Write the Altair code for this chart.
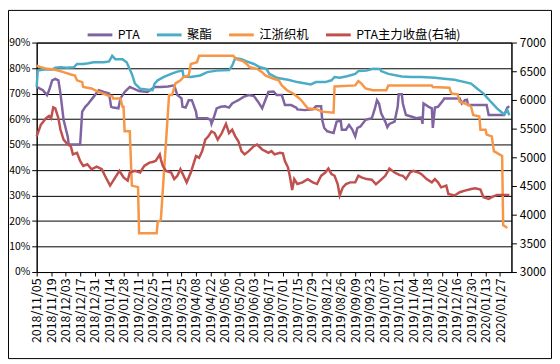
import altair as alt
import pandas as pd

# ---------------- data ----------------
SERIES = ["PTA", "聚酯", "江浙织机", "PTA主力收盘(右轴)"]
COLORS = ["#8064A2", "#4BACC6", "#F79646", "#C0504D"]

pta_dates = ["2018-11-05","2018-11-11","2018-11-15","2018-11-17","2018-11-20","2018-11-23","2018-11-26","2018-11-28",
 "2018-12-01","2018-12-05","2018-12-06","2018-12-17","2018-12-19","2018-12-22","2018-12-25","2018-12-30",
 "2019-01-04","2019-01-09","2019-01-14","2019-01-16","2019-01-18","2019-01-23","2019-01-25","2019-01-29",
 "2019-02-03","2019-02-12","2019-02-20","2019-02-27","2019-03-05","2019-03-12","2019-03-18","2019-03-21",
 "2019-03-25","2019-03-26","2019-03-29","2019-04-01","2019-04-04","2019-04-08","2019-04-09","2019-04-19",
 "2019-04-22","2019-04-23","2019-04-25","2019-04-28","2019-05-02","2019-05-06","2019-05-10","2019-05-13",
 "2019-05-16","2019-05-19","2019-05-24","2019-05-29","2019-06-03","2019-06-07","2019-06-11","2019-06-14",
 "2019-06-17","2019-06-22","2019-06-25","2019-06-30","2019-07-03","2019-07-09","2019-07-14","2019-07-15",
 "2019-07-22","2019-07-30","2019-08-02","2019-08-07","2019-08-08","2019-08-10","2019-08-13","2019-08-19",
 "2019-08-22","2019-08-26","2019-08-27","2019-08-31","2019-09-03","2019-09-06","2019-09-09","2019-09-11",
 "2019-09-14","2019-09-19","2019-09-22","2019-09-25","2019-09-28","2019-09-30","2019-10-02","2019-10-04",
 "2019-10-08","2019-10-10","2019-10-12","2019-10-17","2019-10-20","2019-10-21","2019-10-24","2019-10-25",
 "2019-10-28","2019-11-02","2019-11-07","2019-11-12","2019-11-13","2019-11-14","2019-11-19","2019-11-22",
 "2019-11-23","2019-11-25","2019-11-28","2019-12-03","2019-12-04","2019-12-19","2019-12-21","2019-12-24",
 "2019-12-26","2019-12-27","2020-01-14","2020-01-16","2020-01-31","2020-02-03","2020-02-05"]
pta_vals = [72.6,71.3,69.4,71.3,75.2,75.8,75.2,70.0,
 59.7,53.2,50.0,50.0,62.9,64.8,66.1,68.7,
 71.3,70.6,70.0,64.8,64.5,64.2,68.1,70.6,
 72.6,71.0,70.6,72.6,72.6,72.8,73.2,69.4,
 68.1,64.8,64.5,67.4,67.4,62.9,60.3,60.3,
 59.7,58.1,60.3,64.2,64.8,65.0,64.5,66.1,
 66.8,67.4,68.7,69.4,69.0,66.8,64.2,67.4,
 70.6,70.8,69.4,69.4,65.5,65.5,64.5,63.8,
 63.5,63.8,65.0,65.0,59.7,56.5,55.2,54.5,
 59.0,59.3,55.8,55.8,57.7,56.0,53.2,56.5,
 57.1,59.7,60.0,60.3,64.2,67.4,66.0,62.3,
 59.0,56.8,58.1,59.0,64.8,69.7,69.7,66.1,
 61.6,61.0,60.3,60.6,58.1,66.1,64.8,64.2,
 56.5,64.5,64.8,67.4,68.1,68.1,66.1,67.4,
 67.6,65.5,65.5,61.6,61.6,64.5,65.0]

poly_dates = ["2018-11-05","2018-11-06","2018-11-12","2018-11-20","2018-11-23","2018-11-28","2018-12-04","2018-12-11",
 "2018-12-14","2018-12-20","2018-12-25","2018-12-30","2019-01-09","2019-01-14","2019-01-17","2019-01-20",
 "2019-01-27","2019-01-31","2019-02-05","2019-02-08","2019-02-13","2019-02-25","2019-02-27","2019-03-02",
 "2019-03-08","2019-03-15","2019-03-21","2019-03-26","2019-03-27","2019-04-03","2019-04-12","2019-04-19",
 "2019-04-28","2019-05-10","2019-05-13","2019-05-16","2019-05-22","2019-05-27","2019-06-03","2019-06-09",
 "2019-06-15","2019-06-18","2019-06-26","2019-07-06","2019-07-15","2019-07-28","2019-08-02","2019-08-11",
 "2019-08-17","2019-08-20","2019-08-25","2019-09-01","2019-09-09","2019-09-12","2019-09-20","2019-09-26",
 "2019-10-03","2019-10-04","2019-10-11","2019-10-24","2019-11-02","2019-11-12","2019-11-25","2019-12-04",
 "2019-12-14","2019-12-24","2019-12-30","2020-01-05","2020-01-11","2020-01-18","2020-01-24","2020-01-29",
 "2020-01-31","2020-02-03","2020-02-05"]
poly_vals = [72.6,79.0,79.4,79.4,80.1,80.3,80.1,80.3,
 81.6,81.6,81.9,82.3,82.3,82.6,84.8,83.5,
 83.5,82.3,77.7,73.9,71.9,71.3,73.9,75.2,
 76.5,77.7,78.6,79.0,76.7,76.5,77.1,78.4,
 79.0,79.2,80.9,83.9,83.5,82.6,81.6,80.3,
 79.7,77.7,76.1,75.4,74.5,73.6,74.5,74.5,
 75.2,76.5,76.2,76.8,77.7,78.8,79.0,79.7,
 79.6,78.8,77.7,76.7,76.5,76.5,76.2,75.8,
 75.4,74.5,73.9,71.9,70.0,66.8,64.2,62.5,
 61.8,63.5,61.5]

loom_dates = ["2018-11-05","2018-11-09","2018-11-15","2018-11-22","2018-12-01","2018-12-08","2018-12-12","2018-12-14",
 "2018-12-19","2018-12-20","2018-12-28","2019-01-04","2019-01-10","2019-01-14","2019-01-17","2019-01-18",
 "2019-01-25","2019-01-27","2019-01-28","2019-01-29","2019-02-03","2019-02-05","2019-02-11","2019-02-12",
 "2019-03-01","2019-03-02","2019-03-05","2019-03-13","2019-03-16","2019-03-19","2019-03-24","2019-03-27",
 "2019-04-01","2019-04-03","2019-04-09","2019-04-11","2019-05-14","2019-05-17","2019-05-24","2019-05-27",
 "2019-05-30","2019-06-06","2019-06-11","2019-06-14","2019-06-22","2019-06-27","2019-06-30","2019-07-05",
 "2019-07-11","2019-07-17","2019-07-20","2019-07-25","2019-08-03","2019-08-08","2019-08-19","2019-08-20",
 "2019-09-09","2019-09-12","2019-09-15","2019-09-19","2019-09-26","2019-10-09","2019-10-11","2019-11-22",
 "2019-11-23","2019-12-09","2019-12-11","2019-12-17","2019-12-19","2019-12-24","2019-12-28","2019-12-30",
 "2020-01-01","2020-01-07","2020-01-08","2020-01-13","2020-01-14","2020-01-19","2020-01-21","2020-01-29",
 "2020-01-30","2020-02-03"]
loom_vals = [81.0,80.3,79.7,79.4,78.4,77.5,77.1,75.2,
 74.5,72.6,72.0,70.6,69.7,69.0,69.0,68.1,
 68.1,64.8,64.8,55.2,55.2,33.9,33.3,15.2,
 15.2,19.7,20.3,69.4,69.4,73.9,75.2,76.5,
 77.1,81.6,82.3,84.8,84.8,83.5,82.6,81.6,
 80.3,79.7,78.4,77.1,75.8,75.2,73.2,71.3,
 70.0,68.1,66.8,64.2,63.8,62.9,62.5,72.8,
 73.2,74.9,73.9,72.0,71.3,71.3,73.2,73.2,
 72.6,72.3,70.0,69.7,66.8,66.1,65.5,64.8,
 61.6,61.0,55.8,55.8,53.9,53.2,47.4,45.5,
 18.4,17.3]

fut_dates = ["2018-11-05","2018-11-09","2018-11-14","2018-11-17","2018-11-19","2018-11-21","2018-11-23","2018-11-26",
 "2018-11-28","2018-12-01","2018-12-05","2018-12-08","2018-12-10","2018-12-14","2018-12-17","2018-12-20",
 "2018-12-24","2018-12-28","2019-01-02","2019-01-07","2019-01-10","2019-01-15","2019-01-20","2019-01-24",
 "2019-01-28","2019-02-01","2019-02-03","2019-02-08","2019-02-13","2019-02-17","2019-02-22","2019-02-25",
 "2019-02-28","2019-03-04","2019-03-05","2019-03-07","2019-03-10","2019-03-15","2019-03-18","2019-03-21",
 "2019-03-24","2019-03-27","2019-03-30","2019-04-03","2019-04-08","2019-04-11","2019-04-14","2019-04-17",
 "2019-04-20","2019-04-23","2019-04-26","2019-04-29","2019-05-03","2019-05-07","2019-05-10","2019-05-13",
 "2019-05-16","2019-05-19","2019-05-22","2019-05-25","2019-05-29","2019-06-03","2019-06-06","2019-06-11",
 "2019-06-14","2019-06-17","2019-06-20","2019-06-23","2019-06-28","2019-07-01","2019-07-03","2019-07-06",
 "2019-07-08","2019-07-10","2019-07-12","2019-07-15","2019-07-20","2019-07-25","2019-07-30","2019-08-03",
 "2019-08-07","2019-08-11","2019-08-14","2019-08-17","2019-08-20","2019-08-23","2019-08-25","2019-08-28",
 "2019-08-31","2019-09-04","2019-09-09","2019-09-12","2019-09-15","2019-09-20","2019-09-25","2019-09-29",
 "2019-10-03","2019-10-08","2019-10-12","2019-10-17","2019-10-22","2019-10-25","2019-10-28","2019-11-01",
 "2019-11-04","2019-11-09","2019-11-12","2019-11-17","2019-11-22","2019-11-25","2019-11-28","2019-12-01",
 "2019-12-06","2019-12-08","2019-12-14","2019-12-19","2019-12-24","2019-12-30","2020-01-03","2020-01-08",
 "2020-01-11","2020-01-16","2020-01-19","2020-01-24","2020-01-30","2020-02-05"]
fut_vals = [5366,5566,5681,5721,5681,5870,5853,5681,
 5480,5308,5222,5194,5050,5079,4936,4850,
 4878,4792,4838,4792,4678,4506,4649,4764,
 4649,4592,4735,4764,4735,4850,4907,4919,
 4936,5050,4964,4850,4764,4735,4620,4678,
 4792,4678,4563,4735,5022,4993,5108,5308,
 5366,5452,5423,5308,5423,5584,5423,5480,
 5366,5280,5108,5050,5108,5194,5222,5136,
 5108,5079,5108,5050,5079,5068,4936,4821,
 4649,4431,4620,4534,4563,4620,4563,4534,
 4678,4735,4804,4706,4678,4534,4334,4477,
 4534,4563,4563,4678,4649,4620,4609,4530,
 4592,4678,4804,4735,4689,4678,4620,4735,
 4764,4735,4706,4620,4563,4620,4563,4477,
 4506,4362,4334,4391,4420,4448,4460,4437,
 4305,4276,4305,4345,4345,4345]

left_ticks = [0, 10, 20, 30, 40, 50, 60, 70, 80, 90]
right_ticks = [3000, 3500, 4000, 4500, 5000, 5500, 6000, 6500, 7000]
x_start, x_end, tick_step = "2018-11-05", "2020-02-07", "14D"
last_tick = "2020-01-27"

# ---------------- build tables ----------------
left_df = pd.concat([
    pd.DataFrame({"date": pta_dates, "value": pta_vals, "series": SERIES[0]}),
    pd.DataFrame({"date": poly_dates, "value": poly_vals, "series": SERIES[1]}),
    pd.DataFrame({"date": loom_dates, "value": loom_vals, "series": SERIES[2]}),
], ignore_index=True)
right_df = pd.DataFrame({"date": fut_dates, "value": fut_vals, "series": SERIES[3]})


def ms(d):
    return int(pd.Timestamp(d).value // 10**6)


tick_ms = [ms(t) for t in pd.date_range(x_start, last_tick, freq=tick_step)]
FONT = "Noto Sans CJK SC"

x_enc = alt.X(
    "date:T",
    scale=alt.Scale(type="utc", domain=[ms(x_start), ms(x_end)]),
    axis=alt.Axis(values=tick_ms, labelExpr="utcFormat(datum.value, '%Y/%m/%d')",
                  labelAngle=270, labelAlign="right", labelBaseline="middle",
                  labelFontSize=12.5, tickSize=4, labelPadding=2,
                  grid=False, labelOverlap=False, labelFlush=False),
    title=None,
)

legend = alt.Legend(orient="none", legendX=50, legendY=-22, direction="horizontal",
                    symbolType="stroke", symbolSize=625, symbolStrokeWidth=3,
                    labelFont=FONT, labelFontSize=12.5, labelColor="black",
                    labelOffset=4, columnPadding=10, padding=0)
color_enc = alt.Color("series:N", scale=alt.Scale(domain=SERIES, range=COLORS),
                      legend=legend, title=None)

left_chart = alt.Chart(left_df).mark_line(strokeWidth=2.5).encode(
    x=x_enc,
    y=alt.Y("value:Q", scale=alt.Scale(domain=[0, 90]),
            axis=alt.Axis(orient="left", values=left_ticks, labelExpr="datum.value + '%'",
                          grid=True, gridColor="black", gridWidth=1,
                          tickSize=5, labelPadding=2, labelFontSize=10.5),
            title=None),
    color=color_enc,
)

right_chart = alt.Chart(right_df).mark_line(strokeWidth=2.5).encode(
    x=x_enc,
    y=alt.Y("value:Q", scale=alt.Scale(domain=[3000, 7000]),
            axis=alt.Axis(orient="right", values=right_ticks, grid=False, format="d",
                          tickSize=5, labelPadding=3, labelFontSize=12),
            title=None),
    color=color_enc,
)

frame = alt.Chart(alt.Data(values=[{"k": 1}])).mark_rect(
    filled=False, stroke="black", strokeWidth=1
).encode(x=alt.value(-28.5), x2=alt.value(520.5), y=alt.value(-32.5), y2=alt.value(319.5))

chart = alt.layer(frame, left_chart, right_chart).resolve_scale(y="independent").properties(
    width=480, height=232,
    autosize=alt.AutoSizeParams(type="none"),
    padding={"left": 29, "top": 33, "right": 41, "bottom": 88},
    background="white",
).configure_view(stroke="black", strokeWidth=1).configure_axis(
    domainColor="black", tickColor="black", labelColor="black", labelFont=FONT,
    domainWidth=1, tickWidth=1,
)

chart.save("out.html", embed_options={"renderer": "svg", "actions": False})
